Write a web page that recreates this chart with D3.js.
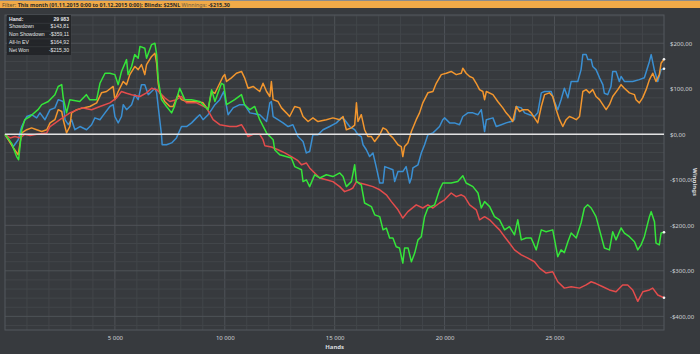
<!DOCTYPE html>
<html>
<head>
<meta charset="utf-8">
<script src="https://cdn.jsdelivr.net/npm/d3@7"></script>
<style>
  body { margin: 0; background: #373a3e; }
  svg { display: block; font-family: "Noto Sans", "DejaVu Sans", sans-serif; }
</style>
</head>
<body>
<div id="chart"></div>
<script>
// [hands, $] readings for each line
var netWon = [[0,0],[300,-20],[530,-49],[620,-56],[760,10],[900,32],[1140,39],[1500,54],[1670,65],[1970,72],[2270,87],[2420,105],[2580,109],[2650,80],[2800,47],[2950,76],[3400,72],[3700,87],[3850,76],[4170,76],[4320,112],[4550,134],[4770,134],[5000,131],[5150,109],[5300,138],[5530,164],[5600,131],[5760,149],[5900,175],[6060,167],[6140,193],[6360,189],[6440,167],[6670,197],[6820,200],[6900,175],[6970,120],[7120,76],[7350,61],[7580,47],[7700,60],[7950,101],[8180,76],[8490,76],[8860,72],[9240,54],[9400,98],[9550,72],[9850,112],[9950,109],[10080,65],[10450,76],[10760,87],[10900,65],[11140,54],[11360,61],[11590,32],[11900,3],[12200,-12],[12270,-34],[12500,-45],[13030,-52],[13180,-71],[13490,-78],[13560,-104],[13710,-100],[13860,-115],[14090,-89],[14320,-96],[14620,-89],[14920,-93],[15230,-85],[15380,-93],[15530,-115],[15760,-104],[15910,-67],[15990,-104],[16210,-111],[16360,-151],[16670,-159],[16820,-177],[17050,-181],[17200,-210],[17350,-206],[17500,-228],[17650,-228],[17800,-247],[17950,-250],[18100,-283],[18180,-250],[18340,-250],[18490,-280],[18640,-261],[18790,-232],[18940,-225],[19090,-181],[19240,-162],[19550,-155],[19770,-122],[19920,-107],[20000,-107],[20300,-107],[20600,-104],[20830,-91],[20980,-107],[21290,-115],[21520,-129],[21670,-162],[21820,-148],[22050,-159],[22270,-181],[22500,-188],[22730,-210],[22950,-203],[23180,-221],[23330,-188],[23490,-232],[23710,-228],[23940,-228],[24170,-254],[24400,-210],[24620,-214],[24920,-210],[25150,-269],[25300,-254],[25450,-260],[25610,-236],[25760,-217],[25990,-228],[26210,-195],[26360,-162],[26510,-155],[26670,-162],[26890,-181],[27050,-210],[27270,-250],[27500,-254],[27650,-214],[27800,-232],[28030,-206],[28180,-217],[28410,-225],[28640,-236],[28790,-254],[28940,-243],[29090,-225],[29320,-181],[29400,-170],[29550,-192],[29620,-239],[29770,-243],[29850,-217],[29983,-215.3]];

var nonShowdown = [[0,0],[230,-8],[450,-5],[700,-8],[900,0],[1140,-3],[1440,0],[1900,3],[2050,17],[2500,32],[2950,47],[3490,58],[3940,54],[4320,61],[4770,69],[5080,80],[5300,94],[5530,90],[5760,87],[6140,83],[6440,91],[6670,101],[6900,98],[7045,91],[7270,80],[7500,72],[7800,76],[8030,83],[8260,69],[8710,69],[9170,58],[9470,32],[9770,21],[10230,17],[10530,17],[10760,21],[10900,10],[11060,-5],[11290,0],[11590,0],[11740,-12],[11820,-25],[12120,-28],[12420,-34],[12730,-41],[13030,-49],[13330,-58],[13490,-67],[13710,-63],[13860,-74],[14170,-89],[14320,-96],[14620,-100],[14920,-104],[15230,-115],[15450,-126],[15680,-122],[15830,-118],[15990,-104],[16140,-107],[16440,-111],[16740,-115],[17050,-122],[17350,-133],[17580,-148],[17880,-166],[18100,-184],[18330,-170],[18710,-155],[19010,-162],[19240,-155],[19470,-162],[19770,-151],[20000,-144],[20300,-129],[20530,-137],[20760,-133],[20910,-137],[21140,-155],[21440,-166],[21590,-188],[21820,-181],[22050,-188],[22270,-199],[22500,-210],[22730,-225],[22950,-239],[23180,-254],[23490,-265],[23790,-272],[24090,-280],[24320,-294],[24620,-305],[24920,-302],[25150,-324],[25450,-338],[25760,-335],[26140,-338],[26440,-331],[26670,-324],[26890,-328],[27200,-335],[27500,-342],[27800,-346],[28100,-331],[28330,-331],[28560,-342],[28790,-367],[29020,-346],[29320,-342],[29470,-338],[29700,-353],[29983,-359.11]];

var showdown = [[0,0],[380,-27],[600,-12],[760,17],[990,39],[1210,43],[1440,36],[1590,47],[1820,32],[2050,54],[2270,58],[2420,76],[2650,72],[2730,32],[2880,21],[3030,32],[3180,10],[3410,17],[3710,10],[3940,21],[4090,36],[4320,32],[4550,47],[4770,61],[4920,65],[5000,39],[5150,25],[5300,39],[5380,65],[5530,54],[5760,65],[5910,87],[6060,76],[6210,109],[6360,109],[6520,87],[6670,94],[6820,101],[6900,91],[6970,61],[7120,-1],[7150,-23],[7350,-23],[7580,-19],[7800,-8],[8030,17],[8260,17],[8490,25],[8710,36],[8860,43],[9010,32],[9240,43],[9400,54],[9550,65],[9770,76],[9950,94],[10150,43],[10380,58],[10680,65],[10900,65],[11140,47],[11590,43],[11900,28],[12050,69],[12120,72],[12200,39],[12420,32],[12650,25],[12880,17],[13100,21],[13330,-5],[13560,-16],[13710,-41],[13860,-38],[14010,-1],[14240,-1],[14470,10],[14770,17],[15080,25],[15300,36],[15450,32],[15680,17],[15910,10],[16060,-1],[16210,-5],[16290,-23],[16440,-34],[16590,-49],[16740,-41],[16900,-74],[17050,-107],[17200,-107],[17280,-71],[17650,-78],[17730,-104],[17880,-82],[18100,-82],[18250,-71],[18410,-107],[18490,-96],[18560,-74],[18790,-67],[18940,-41],[19090,-23],[19240,-1],[19470,3],[19620,10],[19770,17],[19920,32],[20000,36],[20230,25],[20450,25],[20680,21],[20830,39],[21060,47],[21290,47],[21520,43],[21670,54],[21740,32],[21820,6],[21900,32],[22200,36],[22350,17],[22580,21],[22800,25],[23030,28],[23180,32],[23260,61],[23490,58],[23640,47],[23860,43],[24090,39],[24240,47],[24400,91],[24550,94],[24850,94],[25000,72],[25150,54],[25300,76],[25450,101],[25610,80],[25760,116],[26060,116],[26210,142],[26290,175],[26440,175],[26520,164],[26670,164],[26740,149],[26890,142],[27050,124],[27200,109],[27270,90],[27420,87],[27570,105],[27650,138],[27800,138],[27950,116],[28030,127],[28180,116],[28560,116],[28860,120],[29090,124],[29320,160],[29400,175],[29550,140],[29700,116],[29850,142],[29983,143.81]];

var allInEv = [[0,0],[380,-30],[600,-45],[760,3],[990,10],[1210,14],[1440,10],[1670,6],[1900,10],[2050,25],[2270,32],[2420,54],[2580,50],[2650,32],[2800,3],[2950,17],[3030,47],[3260,54],[3560,58],[3860,61],[4170,69],[4390,91],[4620,94],[4920,105],[5000,76],[5150,94],[5380,116],[5530,109],[5680,131],[5910,149],[6060,142],[6210,153],[6360,131],[6440,153],[6670,171],[6820,178],[6900,156],[6970,112],[7045,91],[7270,72],[7500,61],[7650,61],[7880,87],[8030,76],[8260,72],[8710,72],[9010,69],[9240,54],[9400,94],[9550,90],[9920,127],[10000,131],[10080,116],[10300,124],[10530,134],[10760,138],[10900,124],[11060,101],[11290,105],[11590,94],[11740,112],[11900,94],[12050,83],[12120,116],[12200,76],[12420,72],[12580,58],[12800,47],[12950,39],[13180,61],[13410,58],[13560,39],[13790,28],[14010,36],[14240,28],[14620,32],[14920,36],[15230,32],[15380,39],[15530,10],[15760,14],[15910,20],[15990,69],[16060,28],[16210,43],[16360,10],[16510,-5],[16670,-5],[16820,-16],[17050,-1],[17200,14],[17350,10],[17500,-1],[17650,-8],[17880,-23],[18030,-27],[18100,-49],[18180,-27],[18330,-19],[18490,6],[18710,32],[18860,47],[19010,69],[19240,91],[19470,94],[19620,112],[19850,131],[20080,134],[20300,138],[20530,131],[20760,134],[20830,145],[20980,134],[21140,127],[21290,124],[21440,112],[21590,98],[21740,94],[21820,76],[21900,94],[22200,87],[22420,72],[22650,58],[22800,47],[22950,39],[23100,28],[23260,61],[23410,50],[23560,54],[23790,54],[23940,47],[24090,36],[24240,25],[24400,61],[24550,87],[24770,91],[24920,83],[25080,54],[25230,32],[25380,17],[25530,32],[25680,39],[25830,36],[25990,32],[26140,39],[26290,94],[26440,98],[26590,91],[26740,98],[26890,83],[27050,76],[27200,65],[27350,54],[27500,65],[27650,83],[27880,98],[28030,109],[28180,101],[28410,91],[28640,87],[28710,76],[28860,69],[29010,80],[29170,98],[29320,120],[29470,134],[29620,116],[29770,131],[29850,156],[29983,164.92]];

var xTicks = [5000, 10000, 15000, 20000, 25000];
var yTicks = [200, 100, 0, -100, -200, -300, -400];

var statLabels = ["Hand:", "Showdown", "Non Showdown", "All-In EV", "Net Won"];
var statValues = ["29 983", "$143,81", "-$359,11", "$164,92", "-$215,30"];

const width = 700, height = 354;
var margin = { top: 15, right: 36, bottom: 24, left: 5 };

var svg = d3.select('#chart').append('svg')
    .attr('width', width)
    .attr('height', height);

svg.append('rect').attr('width', width).attr('height', height).attr('fill', '#373a3e');

// filter banner
svg.append('rect').attr('x', 0).attr('y', 0).attr('width', width).attr('height', 1).attr('fill', '#8c8c8c');
svg.append('rect').attr('x', 0).attr('y', 1).attr('width', width).attr('height', 7).attr('fill', '#f0aa48');
var banner = svg.append('text').attr('x', 2).attr('y', 6.6)
    .style('font-size', '5.4px').attr('fill', '#2a2a2a');
banner.append('tspan').attr('fill', '#5a4a30').text('Filter: ');
banner.append('tspan').style('font-weight', 'bold').text('This month (01.11.2015 0:00 to 01.12.2015 0:00); Blinds: $25NL ');
banner.append('tspan').attr('fill', '#6a5a40').text('Winnings: ');
banner.append('tspan').style('font-weight', 'bold').text('-$215,30');

var x = d3.scaleLinear().domain([0, 29983]).range([margin.left, width - margin.right]);
var y = d3.scaleLinear().domain([-430, 262]).range([height - margin.bottom, margin.top]);

var plot = svg.append('g');

// grid
plot.selectAll('.vminor').data(d3.range(1000, 30000, 1000)).enter().append('line')
    .attr('x1', d => x(d)).attr('x2', d => x(d))
    .attr('y1', margin.top).attr('y2', height - margin.bottom)
    .attr('stroke', d => d % 5000 == 0 ? '#4f5358' : '#42464a')
    .attr('stroke-width', 1);
plot.selectAll('.hminor').data(d3.range(-420, 261, 20)).enter().append('line')
    .attr('x1', margin.left).attr('x2', width - margin.right)
    .attr('y1', d => y(d)).attr('y2', d => y(d))
    .attr('stroke', d => d % 100 == 0 ? '#4f5358' : '#42464a')
    .attr('stroke-width', 1);
plot.append('rect')
    .attr('x', margin.left).attr('y', margin.top)
    .attr('width', width - margin.right - margin.left)
    .attr('height', height - margin.bottom - margin.top)
    .attr('fill', 'none').attr('stroke', '#55595e');

// axes
var xAxis = svg.append('g')
    .attr('transform', `translate(0,${height - margin.bottom + 3})`)
    .call(d3.axisBottom(x).tickValues(xTicks).tickSize(0)
        .tickFormat(d => d3.format(',')(d).replace(',', ' ')));
var yAxis = svg.append('g')
    .attr('transform', `translate(${width - margin.right + 3},0)`)
    .call(d3.axisRight(y).tickValues(yTicks).tickSize(0)
        .tickFormat(d => (d < 0 ? '-' : '') + '$' + Math.abs(d) + ',00'));
[xAxis, yAxis].forEach(function (a) {
    a.select('.domain').remove();
    a.selectAll('text').attr('fill', '#cfd2d6').style('font-size', '6px')
        .style('font-family', '"Noto Sans", sans-serif');
});
yAxis.selectAll('text').attr('dy', '0.32em');

svg.append('text').attr('x', x(15000)).attr('y', 349)
    .attr('text-anchor', 'middle').attr('fill', '#d8dade')
    .style('font-size', '6px').style('font-weight', 'bold').text('Hands');
svg.append('text').attr('transform', `translate(693,${y(-105)}) rotate(90)`)
    .attr('text-anchor', 'middle').attr('fill', '#d8dade')
    .style('font-size', '6px').style('font-weight', 'bold').text('Winnings');

// lines
var line = d3.line().x(d => x(d[0])).y(d => y(d[1]));
var series = [
    { data: showdown, color: '#3a8fd2' },
    { data: allInEv, color: '#f2962e' },
    { data: nonShowdown, color: '#e34c4c' },
    { data: netWon, color: '#35e53a' }
];
series.forEach(function (s) {
    plot.append('path').datum(s.data)
        .attr('d', line)
        .attr('fill', 'none')
        .attr('stroke', s.color)
        .attr('stroke-width', 1.5)
        .attr('stroke-linejoin', 'round');
    var last = s.data[s.data.length - 1];
    plot.append('circle').attr('cx', x(last[0])).attr('cy', y(last[1]))
        .attr('r', 1.3).attr('fill', '#f4f4f4');
});

// zero line
plot.append('line')
    .attr('x1', margin.left).attr('x2', width - margin.right)
    .attr('y1', y(0)).attr('y2', y(0))
    .attr('stroke', '#e2e2e2').attr('stroke-width', 1.6);

// stats box
var box = svg.append('g').attr('transform', 'translate(7,15)')
    .style('font-family', '"Liberation Sans", Arial, sans-serif');
box.append('rect').attr('width', 64).attr('height', 40).attr('fill', '#222427').attr('opacity', 0.92);
statLabels.forEach(function (lbl, i) {
    var yy = 7.8 * i;
    if (i > 0) {
        box.append('line').attr('x1', 1).attr('x2', 63).attr('y1', yy + 0.5).attr('y2', yy + 0.5)
            .attr('stroke', '#3a3d41').attr('stroke-width', 0.7);
    }
    box.append('text').attr('x', 2).attr('y', yy + 5.6)
        .attr('fill', '#e4e6e8').style('font-size', '5.1px')
        .style('font-weight', i == 0 ? 'bold' : 'normal').text(lbl);
    box.append('text').attr('x', 62).attr('y', yy + 5.6).attr('text-anchor', 'end')
        .attr('fill', '#e4e6e8').style('font-size', '5.1px')
        .style('font-weight', i == 0 ? 'bold' : 'normal').text(statValues[i]);
});
</script>
</body>
</html>
